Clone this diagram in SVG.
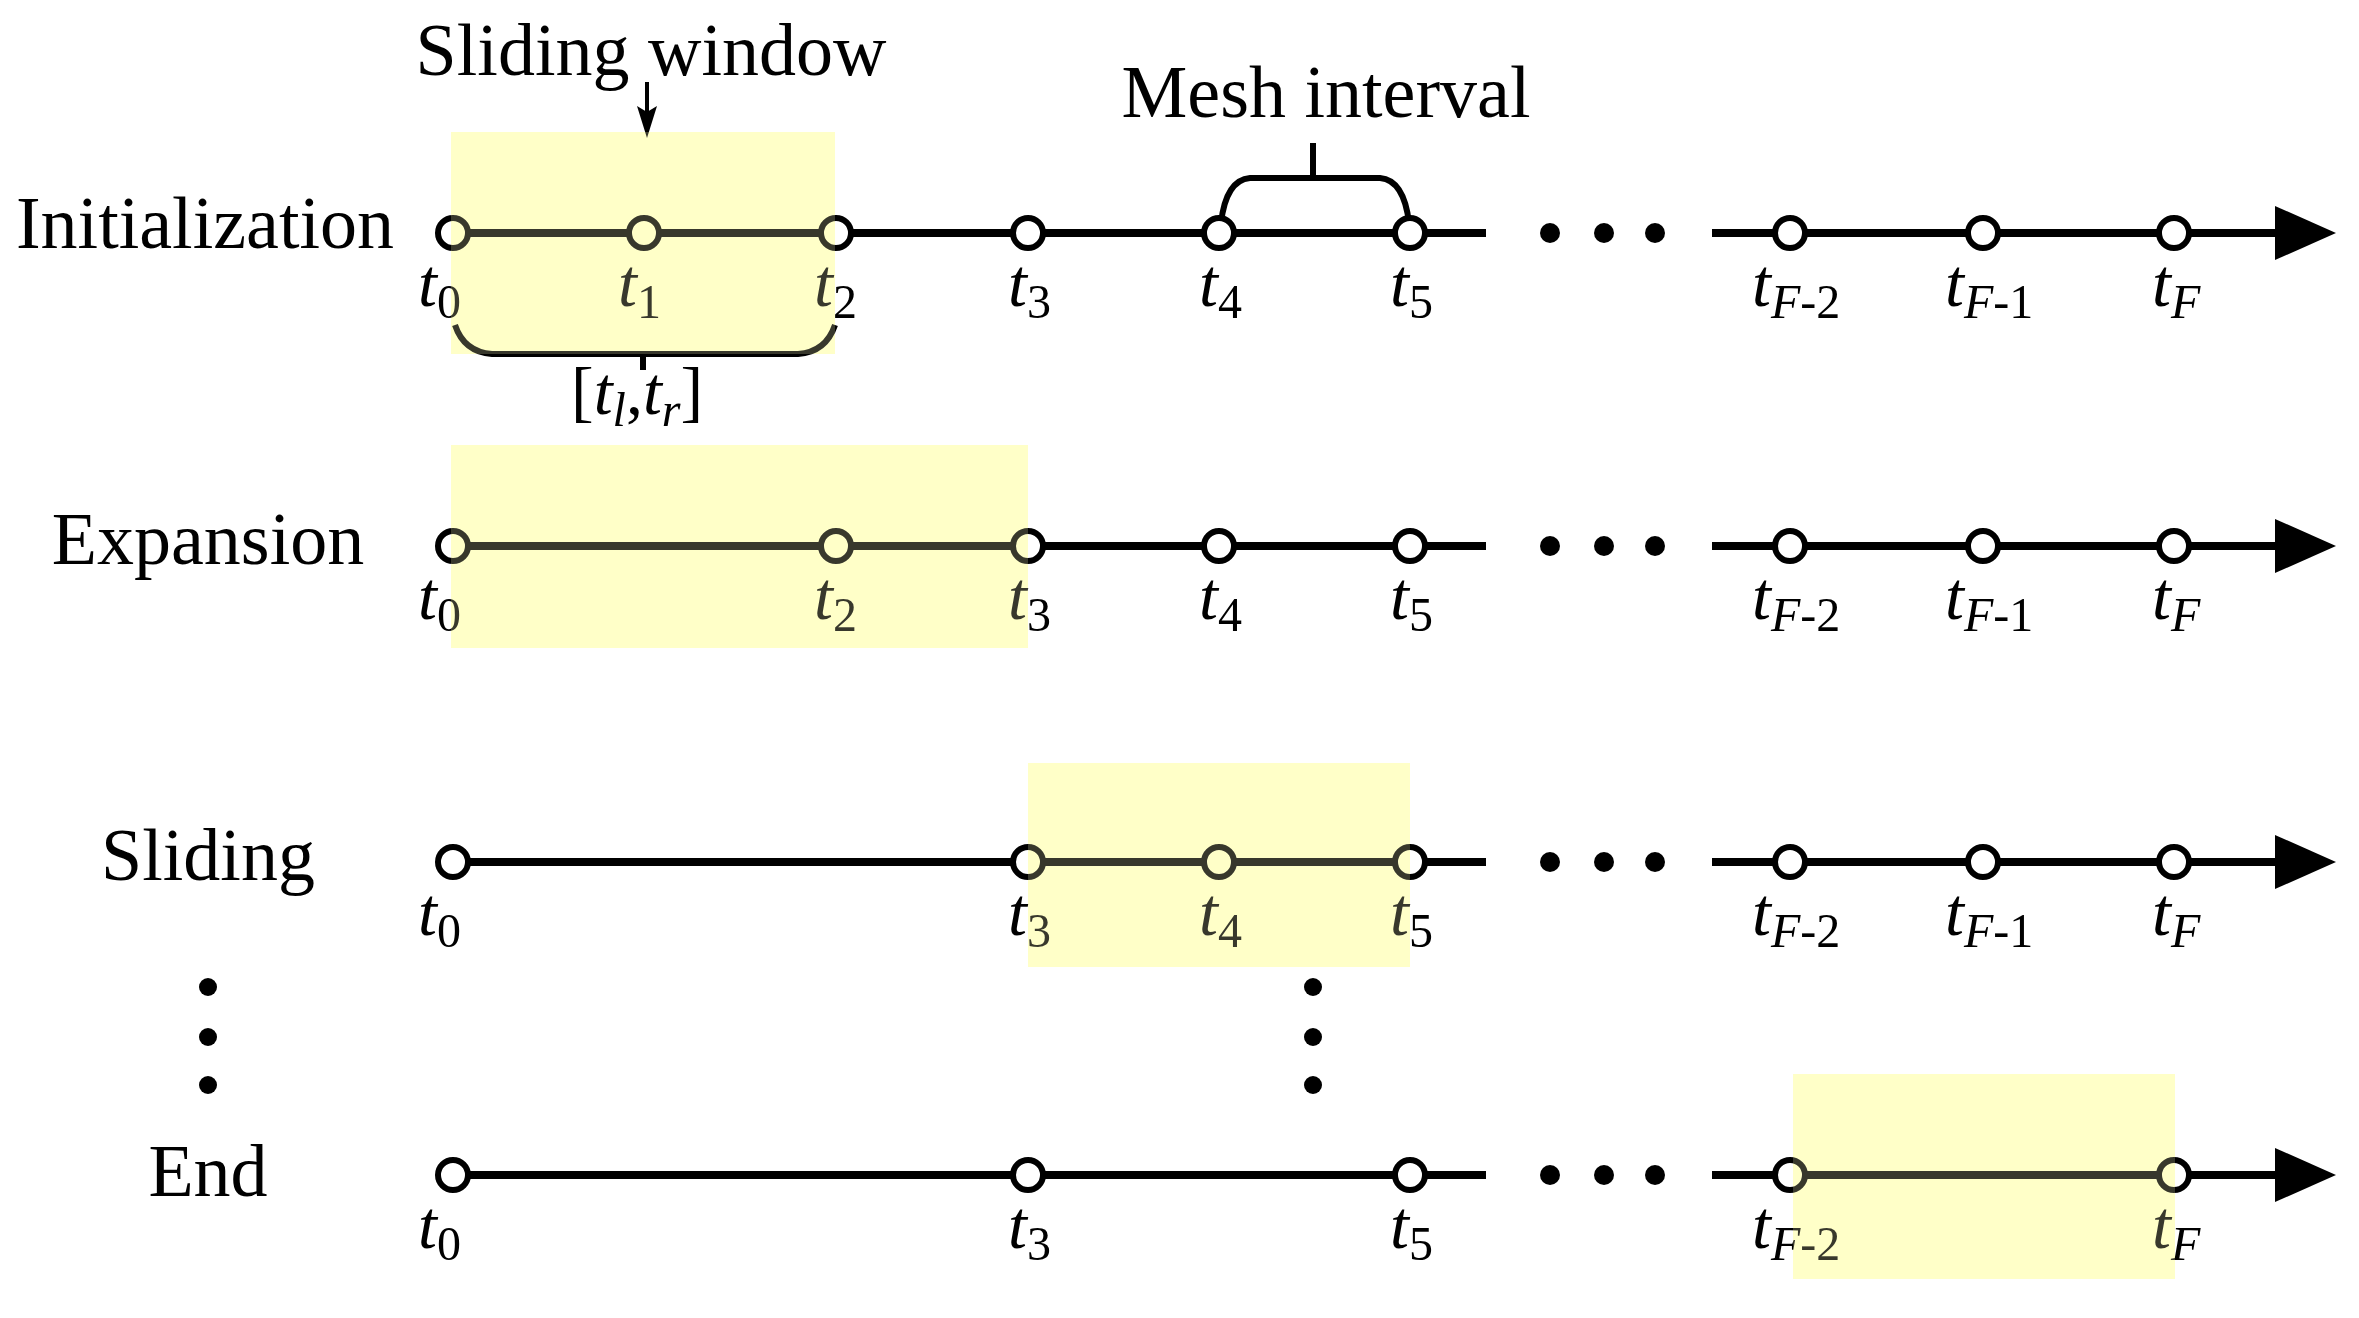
<svg xmlns="http://www.w3.org/2000/svg" width="2359" height="1318" viewBox="0 0 2359 1318">
<style>
.ln{stroke:#000;stroke-width:8;fill:none}
.nd{fill:#fff;stroke:#000;stroke-width:6}
.dt{fill:#000}
.lb{font-family:"Liberation Serif",serif;font-size:74px;text-anchor:middle}
.t{font-family:"Liberation Serif",serif;font-size:68px;font-style:italic}
.s{font-size:48px;font-style:normal}
.si{font-size:48px;font-style:italic}
.win{fill:#ffffc8;mix-blend-mode:multiply}
.win2{fill:#ffffc8;opacity:0.22}
</style>
<rect width="2359" height="1318" fill="#fff"/>
<g id="labels">
<text class="lb" x="205" y="248">Initialization</text>
<text class="lb" x="208" y="564">Expansion</text>
<text class="lb" x="208" y="880">Sliding</text>
<text class="lb" x="208" y="1196">End</text>
<text class="lb" x="651" y="75">Sliding window</text>
<text class="lb" x="1326" y="117">Mesh interval</text>
</g>
<g id="connectors">
<line class="ln" x1="453" y1="233" x2="1486" y2="233"/>
<line class="ln" x1="1712" y1="233" x2="2280" y2="233"/>
<line class="ln" x1="453" y1="546" x2="1486" y2="546"/>
<line class="ln" x1="1712" y1="546" x2="2280" y2="546"/>
<line class="ln" x1="453" y1="862" x2="1486" y2="862"/>
<line class="ln" x1="1712" y1="862" x2="2280" y2="862"/>
<line class="ln" x1="453" y1="1175" x2="1486" y2="1175"/>
<line class="ln" x1="1712" y1="1175" x2="2280" y2="1175"/>
<path d="M2275,206 L2336,233 L2275,260z"/>
<path d="M2275,519 L2336,546 L2275,573z"/>
<path d="M2275,835 L2336,862 L2275,889z"/>
<path d="M2275,1148 L2336,1175 L2275,1202z"/>
<line x1="647" y1="82" x2="647" y2="115" stroke="#000" stroke-width="4"/>
<path d="M637,106 L647,138 L657,106 L647,112z"/>
<path class="ln" d="M1221,223 Q1226,180 1250,178 L1380,178 Q1404,180 1409,223 M1313,178 L1313,143" style="stroke-width:6"/>
<path class="ln" d="M455,325 Q464,352 492,354 L798,354 Q826,352 835,325 M643,354 L643,370" style="stroke-width:6"/>
</g>
<g id="dots">
<circle class="dt" cx="1550" cy="233" r="10"/><circle class="dt" cx="1604" cy="233" r="10"/><circle class="dt" cx="1655" cy="233" r="10"/>
<circle class="dt" cx="1550" cy="546" r="10"/><circle class="dt" cx="1604" cy="546" r="10"/><circle class="dt" cx="1655" cy="546" r="10"/>
<circle class="dt" cx="1550" cy="862" r="10"/><circle class="dt" cx="1604" cy="862" r="10"/><circle class="dt" cx="1655" cy="862" r="10"/>
<circle class="dt" cx="1550" cy="1175" r="10"/><circle class="dt" cx="1604" cy="1175" r="10"/><circle class="dt" cx="1655" cy="1175" r="10"/>
<circle class="dt" cx="208" cy="987" r="9"/><circle class="dt" cx="208" cy="1037" r="9"/><circle class="dt" cx="208" cy="1085" r="9"/>
<circle class="dt" cx="1313" cy="987" r="9"/><circle class="dt" cx="1313" cy="1037" r="9"/><circle class="dt" cx="1313" cy="1085" r="9"/>
</g>
<g id="row1">
<circle class="nd" cx="453" cy="233" r="15"/><circle class="nd" cx="644" cy="233" r="15"/><circle class="nd" cx="836" cy="233" r="15"/><circle class="nd" cx="1028" cy="233" r="15"/><circle class="nd" cx="1219" cy="233" r="15"/><circle class="nd" cx="1410" cy="233" r="15"/><circle class="nd" cx="1790" cy="233" r="15"/><circle class="nd" cx="1983" cy="233" r="15"/><circle class="nd" cx="2174" cy="233" r="15"/>
<text class="t" x="418" y="306">t<tspan class="s" dy="12">0</tspan></text>
<text class="t" x="618" y="306">t<tspan class="s" dy="12">1</tspan></text>
<text class="t" x="814" y="306">t<tspan class="s" dy="12">2</tspan></text>
<text class="t" x="1008" y="306">t<tspan class="s" dy="12">3</tspan></text>
<text class="t" x="1199" y="306">t<tspan class="s" dy="12">4</tspan></text>
<text class="t" x="1390" y="306">t<tspan class="s" dy="12">5</tspan></text>
<text class="t" x="1752" y="306">t<tspan class="si" dy="12">F</tspan><tspan class="s">-2</tspan></text>
<text class="t" x="1945" y="306">t<tspan class="si" dy="12">F</tspan><tspan class="s">-1</tspan></text>
<text class="t" x="2152" y="306">t<tspan class="si" dy="12">F</tspan></text>
<text class="t" x="571" y="414" style="font-style:normal">[<tspan style="font-style:italic">t</tspan><tspan class="si" dy="12">l</tspan><tspan dy="-12">,</tspan><tspan style="font-style:italic">t</tspan><tspan class="si" dy="12">r</tspan><tspan dy="-12">]</tspan></text>
</g>
<g id="row2">
<circle class="nd" cx="453" cy="546" r="15"/><circle class="nd" cx="836" cy="546" r="15"/><circle class="nd" cx="1028" cy="546" r="15"/><circle class="nd" cx="1219" cy="546" r="15"/><circle class="nd" cx="1410" cy="546" r="15"/><circle class="nd" cx="1790" cy="546" r="15"/><circle class="nd" cx="1983" cy="546" r="15"/><circle class="nd" cx="2174" cy="546" r="15"/>
<text class="t" x="418" y="619">t<tspan class="s" dy="12">0</tspan></text>
<text class="t" x="814" y="619">t<tspan class="s" dy="12">2</tspan></text>
<text class="t" x="1008" y="619">t<tspan class="s" dy="12">3</tspan></text>
<text class="t" x="1199" y="619">t<tspan class="s" dy="12">4</tspan></text>
<text class="t" x="1390" y="619">t<tspan class="s" dy="12">5</tspan></text>
<text class="t" x="1752" y="619">t<tspan class="si" dy="12">F</tspan><tspan class="s">-2</tspan></text>
<text class="t" x="1945" y="619">t<tspan class="si" dy="12">F</tspan><tspan class="s">-1</tspan></text>
<text class="t" x="2152" y="619">t<tspan class="si" dy="12">F</tspan></text>
</g>
<g id="row3">
<circle class="nd" cx="453" cy="862" r="15"/><circle class="nd" cx="1028" cy="862" r="15"/><circle class="nd" cx="1219" cy="862" r="15"/><circle class="nd" cx="1410" cy="862" r="15"/><circle class="nd" cx="1790" cy="862" r="15"/><circle class="nd" cx="1983" cy="862" r="15"/><circle class="nd" cx="2174" cy="862" r="15"/>
<text class="t" x="418" y="935">t<tspan class="s" dy="12">0</tspan></text>
<text class="t" x="1008" y="935">t<tspan class="s" dy="12">3</tspan></text>
<text class="t" x="1199" y="935">t<tspan class="s" dy="12">4</tspan></text>
<text class="t" x="1390" y="935">t<tspan class="s" dy="12">5</tspan></text>
<text class="t" x="1752" y="935">t<tspan class="si" dy="12">F</tspan><tspan class="s">-2</tspan></text>
<text class="t" x="1945" y="935">t<tspan class="si" dy="12">F</tspan><tspan class="s">-1</tspan></text>
<text class="t" x="2152" y="935">t<tspan class="si" dy="12">F</tspan></text>
</g>
<g id="row4">
<circle class="nd" cx="453" cy="1175" r="15"/><circle class="nd" cx="1028" cy="1175" r="15"/><circle class="nd" cx="1410" cy="1175" r="15"/><circle class="nd" cx="1790" cy="1175" r="15"/><circle class="nd" cx="2174" cy="1175" r="15"/>
<text class="t" x="418" y="1248">t<tspan class="s" dy="12">0</tspan></text>
<text class="t" x="1008" y="1248">t<tspan class="s" dy="12">3</tspan></text>
<text class="t" x="1390" y="1248">t<tspan class="s" dy="12">5</tspan></text>
<text class="t" x="1752" y="1248">t<tspan class="si" dy="12">F</tspan><tspan class="s">-2</tspan></text>
<text class="t" x="2152" y="1248">t<tspan class="si" dy="12">F</tspan></text>
</g>
<g id="windows">
<rect class="win" x="451" y="132" width="384" height="222"/>
<rect class="win2" x="451" y="132" width="384" height="222"/>
<rect class="win" x="451" y="445" width="577" height="203"/>
<rect class="win2" x="451" y="445" width="577" height="203"/>
<rect class="win" x="1028" y="763" width="382" height="204"/>
<rect class="win2" x="1028" y="763" width="382" height="204"/>
<rect class="win" x="1793" y="1074" width="382" height="205"/>
<rect class="win2" x="1793" y="1074" width="382" height="205"/>
</g>
</svg>
